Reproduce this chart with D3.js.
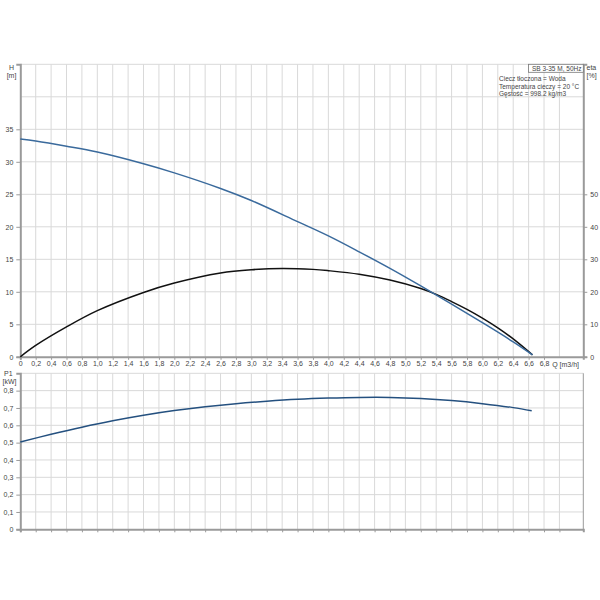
<!DOCTYPE html>
<html>
<head>
<meta charset="utf-8">
<script src="https://cdn.jsdelivr.net/npm/d3@7"></script>
<style>
    body { margin:0; background:#fff; }
    text { font-family:"Liberation Sans", Arial, sans-serif; fill:#333; }
</style>
</head>
<body>
<div id="chart"></div>
<script>
// pump curve data
var qH   = [0, 0.2, 0.6, 1.0, 1.6, 2.0, 2.6, 3.0, 3.6, 4.0, 4.4, 4.8, 5.2, 5.6, 6.0, 6.4, 6.65]
var head = [33.5, 33.2, 32.4, 31.5, 29.7, 28.3, 25.9, 24.05, 20.8, 18.6, 16.15, 13.6, 10.9, 8.1, 5.25, 2.3, 0.3]

var qEta = [0, 0.2, 0.6, 1.0, 1.6, 2.0, 2.6, 3.0, 3.4, 3.8, 4.0, 4.4, 4.8, 5.2, 5.4, 5.6, 5.8, 6.0, 6.2, 6.4, 6.65]
var eta  = [0, 3.5, 9.2, 14.2, 19.8, 22.7, 25.8, 26.8, 27.2, 26.9, 26.5, 25.4, 23.6, 21.0, 19.2, 17.0, 14.6, 11.9, 8.9, 5.5, 0.6]

var qP1  = [0, 0.4, 0.8, 1.2, 1.6, 2.0, 2.4, 2.8, 3.2, 3.6, 4.0, 4.4, 4.8, 5.2, 5.6, 6.0, 6.4, 6.64]
var p1   = [0.504, 0.548, 0.589, 0.626, 0.658, 0.685, 0.707, 0.725, 0.739, 0.750, 0.757, 0.761, 0.761, 0.755, 0.743, 0.725, 0.702, 0.684]

var qTicks   = d3.range(0, 36).map(i => i * 0.2)          // gridlines 0 .. 7.0
var qLabels  = d3.range(0, 35).map(i => i * 0.2)          // labels 0 .. 6.8
var hTicks   = [0, 5, 10, 15, 20, 25, 30, 35]
var etaTicks = [0, 10, 20, 30, 40, 50]
var p1Ticks  = [0, 0.1, 0.2, 0.3, 0.4, 0.5, 0.6, 0.7, 0.8]

var infoTitle = 'SB 3-35 M, 50Hz'
var infoLines = ['Ciecz tłoczona = Woda', 'Temperatura cieczy = 20 °C', 'Gęstość = 998.2 kg/m3']

var fmt = v => v === 0 ? '0' : d3.format('.1f')(v).replace('.', ',')

var W = 600, H = 600
var left = 20.3, right = 583.3
var svg = d3.select('#chart').append('svg').attr('width', W).attr('height', H)

var x = d3.scaleLinear().domain([0, 7.31]).range([left, right])

// top panel: H on the left, eta on the right
var yH   = d3.scaleLinear().domain([0, 45]).range([356.8, 64.3])
var yEta = d3.scaleLinear().domain([0, 90]).range([356.8, 64.3])
// bottom panel: P1
var yP   = d3.scaleLinear().domain([0, 0.9]).range([529.3, 373.3])

var grid = '#d9d9d9', axisCol = '#9a9a9a'

function panelGrid(y, yt) {
    var g = svg.append('g')
    g.selectAll('.vg').data(qTicks.slice(1)).enter().append('line')
        .attr('x1', d => x(d)).attr('x2', d => x(d))
        .attr('y1', y.range()[0]).attr('y2', y.range()[1])
        .style('stroke', grid).style('stroke-width', 1)
    g.selectAll('.hg').data(yt).enter().append('line')
        .attr('x1', left).attr('x2', right)
        .attr('y1', d => y(d)).attr('y2', d => y(d))
        .style('stroke', grid).style('stroke-width', 1)
}

panelGrid(yH, [5, 10, 15, 20, 25, 30, 35, 40, 45])
panelGrid(yP, [0.1, 0.2, 0.3, 0.4, 0.5, 0.6, 0.7, 0.8, 0.9])

// axes
var axH = svg.append('g').attr('transform', 'translate(' + left + ',0)')
    .call(d3.axisLeft(yH).tickValues(hTicks).tickSize(4).tickFormat(d3.format('d')))
var axEta = svg.append('g').attr('transform', 'translate(' + right + ',0)')
    .call(d3.axisRight(yEta).tickValues(etaTicks).tickSize(4).tickFormat(d3.format('d')))
var axQ = svg.append('g').attr('transform', 'translate(0,' + yH(0) + ')')
    .call(d3.axisBottom(x).tickValues(qLabels).tickSize(3).tickFormat(fmt))
var axP = svg.append('g').attr('transform', 'translate(' + left + ',0)')
    .call(d3.axisLeft(yP).tickValues(p1Ticks).tickSize(4).tickFormat(fmt))
var axQ2 = svg.append('g').attr('transform', 'translate(0,' + yP(0) + ')')
    .call(d3.axisBottom(x).tickValues(qTicks).tickSize(3).tickFormat(''))

;[axH, axEta, axQ, axP, axQ2].forEach(a => {
    a.select('.domain').style('stroke', axisCol).style('stroke-width', 2)
    a.selectAll('.tick line').style('stroke', axisCol)
    a.selectAll('.tick text').style('font-size', '7px').style('fill', '#444')
        .style('font-family', '"Liberation Sans", Arial, sans-serif')
})
axQ.selectAll('.tick text').attr('dy', '0.5em')
// right border of bottom panel
svg.append('line').attr('x1', right).attr('x2', right)
    .attr('y1', yP(0)).attr('y2', yP(0.9))
    .style('stroke', axisCol).style('stroke-width', 1)

// axis titles
function label(t, px, py, anchor, size) {
    svg.append('text').attr('x', px).attr('y', py).attr('text-anchor', anchor || 'start')
        .style('font-size', (size || 7) + 'px').style('fill', '#444').text(t)
}
label('H', 11.5, 69.5, 'middle')
label('[m]', 11.5, 77.5, 'middle')
label('eta', 586.5, 69.5)
label('[%]', 586.5, 77.5)
label('P1', 4, 375.5)
label('[kW]', 2.5, 384)
label('Q [m3/h]', x(7.08), yH(0) + 10, 'middle')

// info box
svg.append('rect').attr('x', 528.5).attr('y', 64.3).attr('width', right - 528.5).attr('height', 8)
    .style('fill', '#fff').style('stroke', '#777').style('stroke-width', 0.8)
label(infoTitle, 581.5, 70.6, 'end', 6.5)
infoLines.forEach((t, i) => label(t, 499, 81 + i * 7.5, 'start', 6.5))

// curves
var line = (qs, vs, y) => d3.line().curve(d3.curveCatmullRom.alpha(0.5))
    .x((d, i) => x(qs[i])).y(d => y(d))(vs)

svg.append('path').attr('d', line(qEta, eta, yEta))
    .style('fill', 'none').style('stroke', '#111').style('stroke-width', 1.5)
svg.append('path').attr('d', line(qH, head, yH))
    .style('fill', 'none').style('stroke', '#3a6a9c').style('stroke-width', 1.5)
svg.append('path').attr('d', line(qP1, p1, yP))
    .style('fill', 'none').style('stroke', '#24507f').style('stroke-width', 1.5)
</script>
</body>
</html>
